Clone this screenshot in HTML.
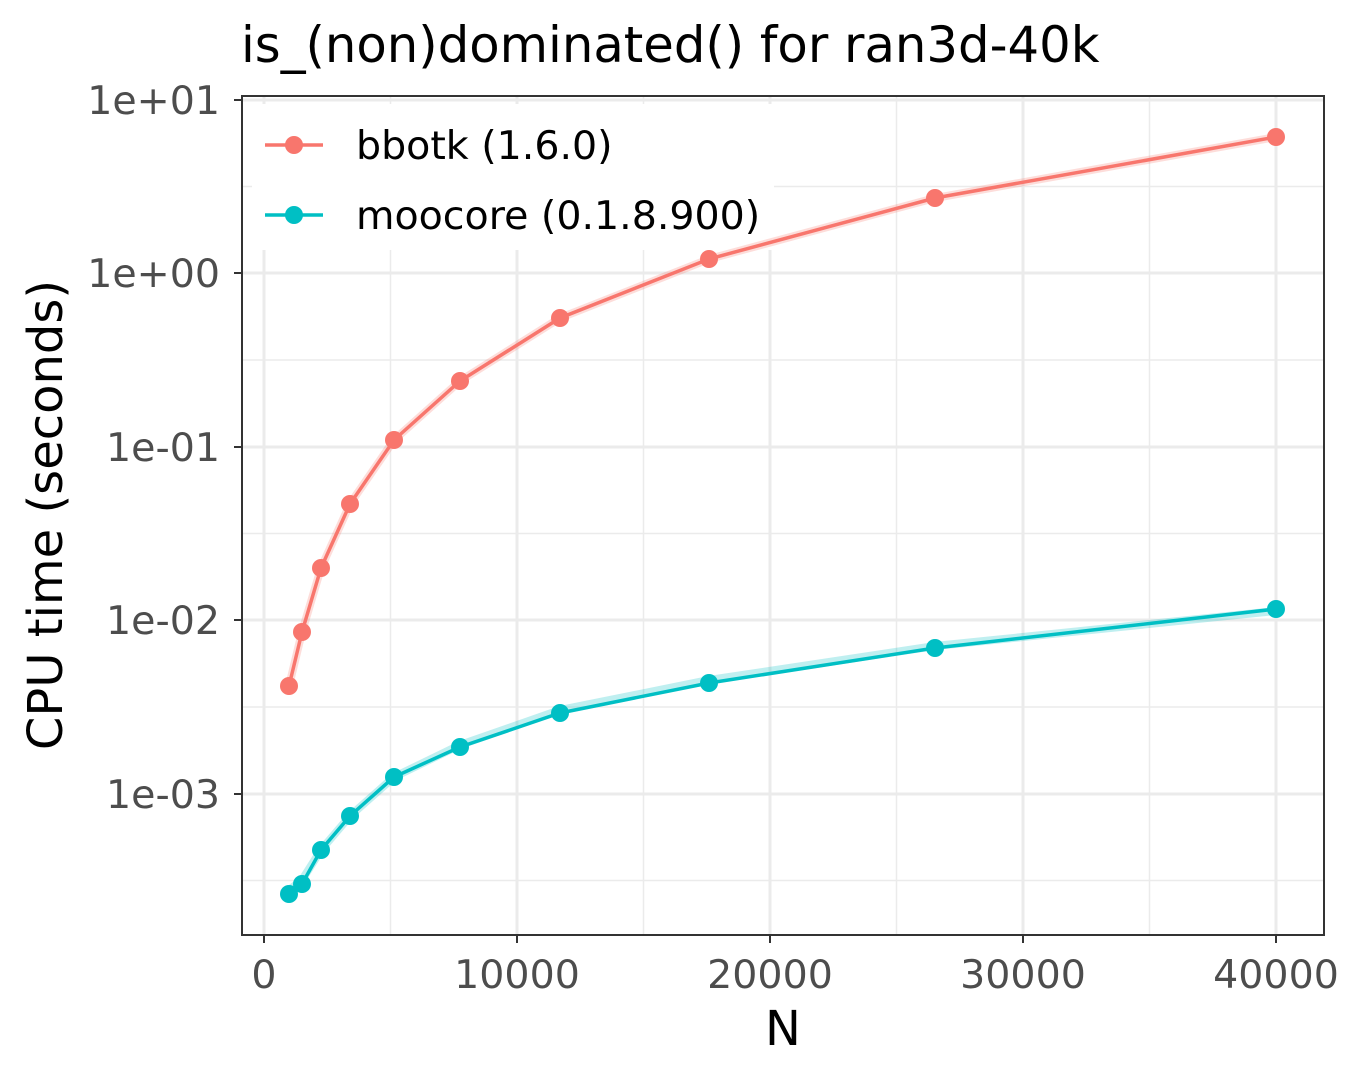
<!DOCTYPE html>
<html><head><meta charset="utf-8"><style>body{margin:0;background:#fff}</style></head><body>
<svg width="1350" height="1080" xmlns="http://www.w3.org/2000/svg" font-family="DejaVu Sans, sans-serif">
<rect width="1350" height="1080" fill="#fff"/>
<g stroke="#ebebeb" stroke-width="1.5">
<line x1="390.5" y1="96" x2="390.5" y2="935"/><line x1="643.5" y1="96" x2="643.5" y2="935"/><line x1="896.5" y1="96" x2="896.5" y2="935"/><line x1="1149.5" y1="96" x2="1149.5" y2="935"/>
<line x1="242" y1="186.5" x2="1324" y2="186.5"/><line x1="242" y1="360" x2="1324" y2="360"/><line x1="242" y1="533.5" x2="1324" y2="533.5"/><line x1="242" y1="707" x2="1324" y2="707"/><line x1="242" y1="880.5" x2="1324" y2="880.5"/>
</g>
<g stroke="#ebebeb" stroke-width="3">
<line x1="264" y1="96" x2="264" y2="935"/><line x1="517" y1="96" x2="517" y2="935"/><line x1="770" y1="96" x2="770" y2="935"/><line x1="1023" y1="96" x2="1023" y2="935"/><line x1="1276" y1="96" x2="1276" y2="935"/>
<line x1="242" y1="100" x2="1324" y2="100"/><line x1="242" y1="273" x2="1324" y2="273"/><line x1="242" y1="447" x2="1324" y2="447"/><line x1="242" y1="620" x2="1324" y2="620"/><line x1="242" y1="794" x2="1324" y2="794"/>
</g>
<rect x="252" y="104" width="522" height="146" fill="#fff"/>
<polyline fill="none" stroke="#f8766d" stroke-opacity="0.25" stroke-width="8" points="289,686 302,632 321,568 350,504 394,440 460,381 560,318 709,259 935,198 1276,137"/>
<polyline fill="none" stroke="#00bfc4" stroke-opacity="0.25" stroke-width="8" points="289,890 302,880 321,850 350,816 394,777 460,745 560,710 709,680 935,646 1276,611"/>
<polyline fill="none" stroke="#f8766d" stroke-width="3.5" points="289,686 302,632 321,568 350,504 394,440 460,381 560,318 709,259 935,198 1276,137"/>
<polyline fill="none" stroke="#00bfc4" stroke-width="3.5" points="289,894 302,884 321,850 350,816 394,777 460,747 560,713 709,683 935,648 1276,609"/>
<g fill="#f8766d"><circle cx="289" cy="686" r="9"/><circle cx="302" cy="632" r="9"/><circle cx="321" cy="568" r="9"/><circle cx="350" cy="504" r="9"/><circle cx="394" cy="440" r="9"/><circle cx="460" cy="381" r="9"/><circle cx="560" cy="318" r="9"/><circle cx="709" cy="259" r="9"/><circle cx="935" cy="198" r="9"/><circle cx="1276" cy="137" r="9"/></g>
<g fill="#00bfc4"><circle cx="289" cy="894" r="9"/><circle cx="302" cy="884" r="9"/><circle cx="321" cy="850" r="9"/><circle cx="350" cy="816" r="9"/><circle cx="394" cy="777" r="9"/><circle cx="460" cy="747" r="9"/><circle cx="560" cy="713" r="9"/><circle cx="709" cy="683" r="9"/><circle cx="935" cy="648" r="9"/><circle cx="1276" cy="609" r="9"/></g>
<rect x="242" y="96" width="1082" height="839" fill="none" stroke="#333" stroke-width="2"/>
<g stroke="#333" stroke-width="2">
<line x1="234" y1="100" x2="242" y2="100"/><line x1="234" y1="273" x2="242" y2="273"/><line x1="234" y1="447" x2="242" y2="447"/><line x1="234" y1="620" x2="242" y2="620"/><line x1="234" y1="794" x2="242" y2="794"/>
<line x1="264" y1="935" x2="264" y2="943"/><line x1="517" y1="935" x2="517" y2="943"/><line x1="770" y1="935" x2="770" y2="943"/><line x1="1023" y1="935" x2="1023" y2="943"/><line x1="1276" y1="935" x2="1276" y2="943"/>
</g>
<g fill="#4d4d4d" font-size="39.5" text-anchor="end">
<text x="220" y="114">1e+01</text><text x="220" y="287">1e+00</text><text x="220" y="461">1e-01</text><text x="220" y="634">1e-02</text><text x="220" y="808">1e-03</text>
</g>
<g fill="#4d4d4d" font-size="39.5" text-anchor="middle">
<text x="264" y="988">0</text><text x="517" y="988">10000</text><text x="770" y="988">20000</text><text x="1023" y="988">30000</text><text x="1276" y="988">40000</text>
</g>
<text x="783" y="1045" font-size="48" text-anchor="middle">N</text>
<text transform="translate(62,515) rotate(-90)" font-size="48" text-anchor="middle">CPU time (seconds)</text>
<text x="241" y="62" font-size="49.7">is_(non)dominated() for ran3d-40k</text>
<line x1="265" y1="145" x2="323" y2="145" stroke="#f8766d" stroke-width="3.5"/><circle cx="294" cy="145" r="9" fill="#f8766d"/>
<line x1="265" y1="215" x2="323" y2="215" stroke="#00bfc4" stroke-width="3.5"/><circle cx="294" cy="215" r="9" fill="#00bfc4"/>
<text x="356" y="159" font-size="39.5">bbotk (1.6.0)</text>
<text x="356" y="229" font-size="39.5">moocore (0.1.8.900)</text>
</svg>
</body></html>
